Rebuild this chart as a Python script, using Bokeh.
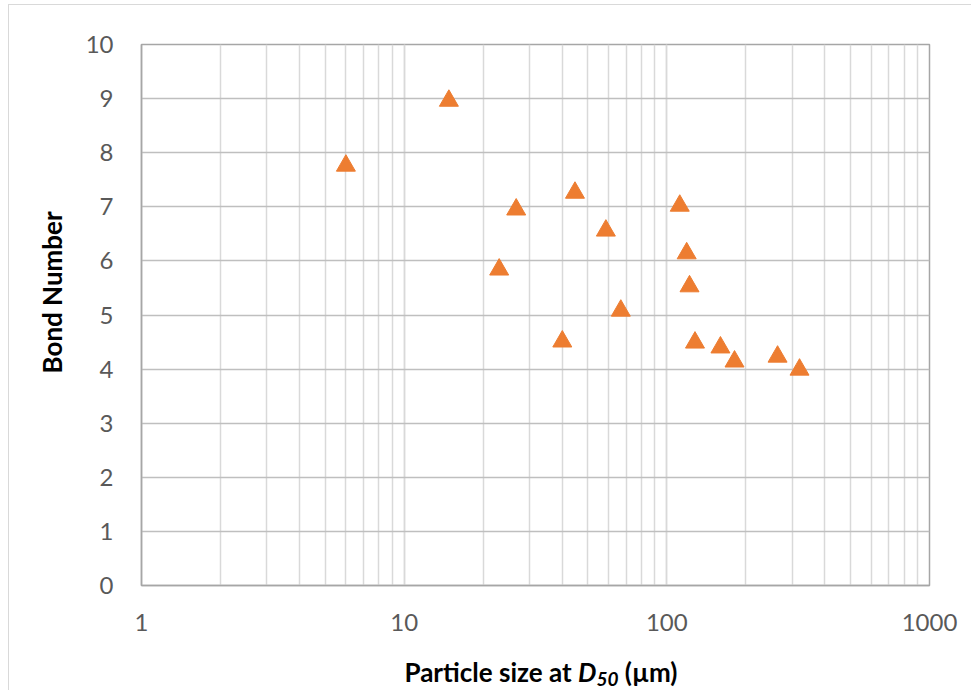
import math
from bokeh.plotting import figure
from bokeh.layouts import column
from bokeh.models import NumeralTickFormatter, LogTicker, SingleIntervalTicker, Title, Div
from bokeh.embed import file_html
from bokeh.resources import INLINE

# Data
particle_size_d50 = [6.0, 14.8, 23.0, 26.7, 40.0, 44.7, 58.6, 66.8, 112, 119, 122, 128, 160, 181, 264, 320]
bond_number = [7.76, 8.96, 5.84, 6.95, 4.51, 7.26, 6.56, 5.08, 7.02, 6.14, 5.53, 4.49, 4.40, 4.14, 4.23, 3.99]

x_title_main = "Particle size at "
x_title_var = "D"
x_title_sub = "50"
x_title_unit = " (µm)"
y_title = "Bond Number"

FONT = "Lato"
ORANGE = "#ED7D31"

p = figure(
    width=962, height=640,
    x_axis_type="log",
    x_range=(1, 1000), y_range=(0, 10),
    output_backend="svg", toolbar_location=None,
    min_border_left=132, min_border_right=42, min_border_top=39, min_border_bottom=60,
)

p.background_fill_color = "white"
p.border_fill_color = "white"
p.outline_line_color = "#a6a6a6"
p.outline_line_width = 1.5

# x axis
p.xaxis.ticker = LogTicker(num_minor_ticks=10)
p.xaxis.formatter = NumeralTickFormatter(format="0")
p.xaxis.major_label_text_font = FONT
p.xaxis.major_label_text_font_size = "24px"
p.xaxis.major_label_text_color = "#595959"
p.xaxis.major_label_standoff = 28
# y axis
p.yaxis.ticker = SingleIntervalTicker(interval=1, num_minor_ticks=0)
p.yaxis.major_label_text_font = FONT
p.yaxis.major_label_text_font_size = "24px"
p.yaxis.major_label_text_color = "#595959"
p.yaxis.major_label_standoff = 28

for ax in (p.xaxis, p.yaxis):
    ax.axis_line_color = "#a6a6a6"
    ax.axis_line_width = 1.5
    ax.major_tick_line_color = None
    ax.minor_tick_line_color = None
    ax.major_tick_out = 0
    ax.major_tick_in = 0
    ax.minor_tick_out = 0
    ax.minor_tick_in = 0

p.xgrid.grid_line_color = "#d9d9d9"
p.xgrid.grid_line_width = 1.5
p.xgrid.minor_grid_line_color = "#d9d9d9"
p.xgrid.minor_grid_line_width = 1.5
p.ygrid.grid_line_color = "#bfbfbf"
p.ygrid.grid_line_width = 1.5

p.scatter(particle_size_d50, bond_number, marker="triangle", size=19,
          fill_color=ORANGE, line_color=ORANGE)

# y axis title
p.add_layout(Title(text=y_title, align="left", offset=212, standoff=30,
                   text_font=FONT, text_font_style="bold", text_font_size="26px",
                   text_color="#000000"), "left")

# x axis title with subscript, as HTML text
x_html = (
    '<div style="width:962px; height:45px; line-height:44px; text-align:center; '
    'font-family:Lato; font-weight:bold; font-size:26px; color:#000000; white-space:nowrap;">'
    '<span style="position:relative; left:46px;">'
    f'{x_title_main}<i>{x_title_var}</i>'
    f'<i style="font-size:19px; position:relative; top:4px;">{x_title_sub}</i>'
    f'{x_title_unit}</span></div>'
)
xdiv = Div(text=x_html, width=962, height=45)

layout = column(p, xdiv, spacing=0)
layout.margin = (4, 0, 0, 8)
layout.styles = {"border-top": "1px solid #d9d9d9", "border-left": "1px solid #d9d9d9"}

html = file_html(layout, INLINE)
open("out.html", "w").write(html)
